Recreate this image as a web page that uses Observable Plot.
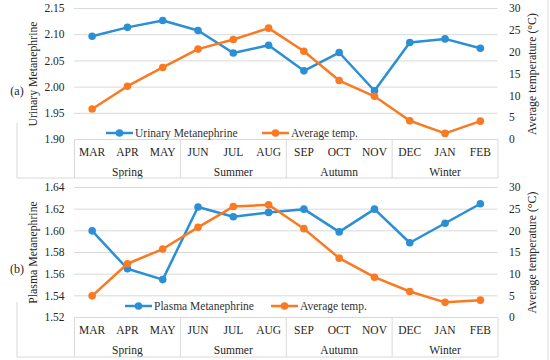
<!DOCTYPE html>
<html><head><meta charset="utf-8">
<script src="https://cdn.jsdelivr.net/npm/d3@7"></script>
<script src="https://cdn.jsdelivr.net/npm/@observablehq/plot@0.6"></script>
<style>
body{margin:0;background:#fff;}
#wrap{position:relative;width:550px;height:360px;overflow:hidden;font-family:"Liberation Serif","Times New Roman",serif;background:#fff;}
.panel{position:absolute;left:0;width:550px;height:180px;}
.leg{position:absolute;font-size:11.5px;color:#333;display:flex;align-items:center;white-space:nowrap;height:14px;}
.leg svg{margin-right:2px;}
</style></head><body><div id="wrap"></div>
<script>
const months = ["MAR","APR","MAY","JUN","JUL","AUG","SEP","OCT","NOV","DEC","JAN","FEB"];
const seasons = ["Spring","Summer","Autumn","Winter"];
const urinary = [2.097, 2.114, 2.127, 2.108, 2.065, 2.080, 2.031, 2.066, 1.993, 2.085, 2.092, 2.074];
const tempA   = [7.0, 12.2, 16.5, 20.7, 22.9, 25.5, 20.2, 13.5, 9.9, 4.3, 1.4, 4.2];
const plasma  = [1.600, 1.565, 1.555, 1.622, 1.613, 1.617, 1.620, 1.599, 1.620, 1.589, 1.607, 1.625];
const tempB   = [5.0, 12.4, 15.8, 20.8, 25.6, 26.0, 20.5, 13.7, 9.3, 6.0, 3.5, 4.0];
const urinaryTicks = [1.90, 1.95, 2.00, 2.05, 2.10, 2.15];
const plasmaTicks = [1.52, 1.54, 1.56, 1.58, 1.60, 1.62, 1.64];
const tempTicks = [0, 5, 10, 15, 20, 25, 30];

const BLUE = "#2a8fd4", ORANGE = "#f97a22", GRID = "#d9d9d9", TXT = "#262626";
const FONT = '"Liberation Serif","Times New Roman",Times,serif';
const FS = 11.5;
const wrap = document.getElementById("wrap");

function panel({top, values, temps, yTicks, yLabel, tag, name, mTop, mBottom, boxH, legY, legX}) {
  const y0 = yTicks[0], y1 = yTicks[yTicks.length - 1];
  const tMax = tempTicks[tempTicks.length - 1];
  const toY = t => y0 + t / tMax * (y1 - y0);
  const fromY = v => (v - y0) / (y1 - y0) * tMax;
  const data = months.map((m, i) => ({i, m, v: values[i], t: toY(temps[i])}));
  const idx = months.map((m, i) => i);
  const seasonMid = seasons.map((s, k) => k * 3 + 1);
  const bounds = d3.range(seasons.length + 1).map(k => k * 3 - 0.5);
  const chart = Plot.plot({
    width: 550, height: 180,
    marginLeft: 74, marginRight: 52.5, marginTop: mTop, marginBottom: mBottom,
    style: {fontFamily: FONT, fontSize: FS + "px", color: TXT, background: "transparent", overflow: "visible"},
    x: {type: "linear", domain: [-0.5, months.length - 0.5]},
    y: {domain: [y0, y1]},
    marks: [
      Plot.ruleY(yTicks, {stroke: GRID, strokeWidth: 1}),
      Plot.axisY(yTicks, {anchor: "left", tickSize: 0, tickPadding: 10, tickFormat: d => d.toFixed(2), label: null, fontSize: FS, fontFamily: FONT}),
      Plot.axisY(tempTicks.map(toY), {anchor: "right", tickSize: 0, tickPadding: 11, tickFormat: v => String(Math.round(fromY(v))), label: null, fontSize: FS, fontFamily: FONT}),
      Plot.axisX(idx, {anchor: "bottom", tickSize: 0, tickPadding: 8, tickFormat: i => months[i], label: null, fontSize: FS, fontFamily: FONT}),
      Plot.axisX(seasonMid, {anchor: "bottom", tickSize: 0, tickPadding: 28, tickFormat: i => seasons[(i - 1) / 3], label: null, fontSize: FS, fontFamily: FONT}),
      Plot.axisX(bounds, {anchor: "bottom", tickSize: boxH, tickFormat: () => "", stroke: GRID, label: null}),
      Plot.line(data, {x: "i", y: "v", stroke: BLUE, strokeWidth: 2.5}),
      Plot.dot(data, {x: "i", y: "v", r: 3.8, fill: BLUE, stroke: "none"}),
      Plot.line(data, {x: "i", y: "t", stroke: ORANGE, strokeWidth: 2.5}),
      Plot.dot(data, {x: "i", y: "t", r: 3.8, fill: ORANGE, stroke: "none"}),
      Plot.text([yLabel], {frameAnchor: "left", textAnchor: "middle", rotate: -90, dx: -41, fontSize: 11.8, fontFamily: FONT}),
      Plot.text(["Average temperature (°C)"], {frameAnchor: "right", textAnchor: "middle", rotate: -90, dx: 34, fontSize: 11.8, fontFamily: FONT}),
      Plot.text([tag], {frameAnchor: "left", textAnchor: "middle", dx: -57.5, dy: 17, fontSize: 12, fontFamily: FONT})
    ]
  });
  const svg = d3.select(chart);
  const yb = 180 - mBottom + boxH;
  svg.append("line").attr("x1", 17).attr("x2", 497.5).attr("y1", yb).attr("y2", yb).attr("stroke", GRID);
  svg.append("line").attr("x1", 17).attr("x2", 17).attr("y1", yb - 55).attr("y2", yb).attr("stroke", GRID);
  const div = document.createElement("div");
  div.className = "panel"; div.style.top = top + "px";
  div.appendChild(chart);
  wrap.appendChild(div);
  const sw = c => `<svg width="27" height="10"><line x1="0" x2="27" y1="5" y2="5" stroke="${c}" stroke-width="2.5"/><circle cx="13.5" cy="5" r="3.8" fill="${c}"/></svg>`;
  const l1 = document.createElement("div"); l1.className = "leg";
  l1.style.left = legX[0] + "px"; l1.style.top = (top + legY - 7) + "px";
  l1.innerHTML = sw(BLUE) + `<span>${name}</span>`;
  const l2 = document.createElement("div"); l2.className = "leg";
  l2.style.left = legX[1] + "px"; l2.style.top = (top + legY - 7) + "px";
  l2.innerHTML = sw(ORANGE) + `<span>Average temp.</span>`;
  wrap.appendChild(l1); wrap.appendChild(l2);
}

panel({top: 0, values: urinary, temps: tempA, yTicks: urinaryTicks, yLabel: "Urinary Metanephrine", tag: "(a)",
  name: "Urinary Metanephrine", mTop: 8, mBottom: 41, boxH: 39, legY: 133, legX: [106, 262]});
panel({top: 180, values: plasma, temps: tempB, yTicks: plasmaTicks, yLabel: "Plasma Metanephrine", tag: "(b)",
  name: "Plasma Metanephrine", mTop: 7, mBottom: 43, boxH: 40, legY: 126, legX: [125, 271]});

const edge = document.createElementNS("http://www.w3.org/2000/svg", "svg");
edge.setAttribute("width", 550); edge.setAttribute("height", 360);
edge.style.position = "absolute"; edge.style.left = 0; edge.style.top = 0; edge.style.pointerEvents = "none";
d3.select(edge).append("line").attr("x1", 548).attr("x2", 548).attr("y1", 0).attr("y2", 360).attr("stroke", GRID);
wrap.appendChild(edge);
</script></body></html>
